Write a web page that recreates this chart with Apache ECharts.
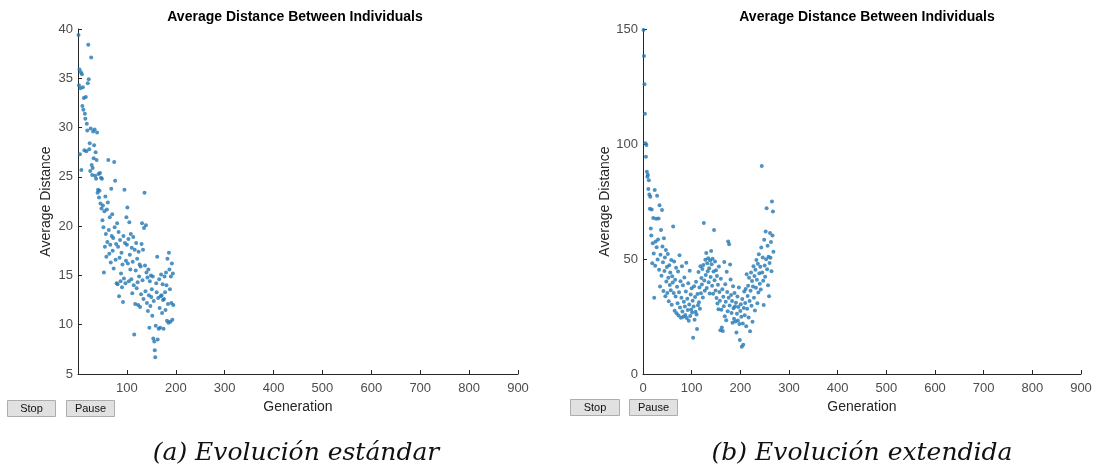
<!DOCTYPE html>
<html>
<head>
<meta charset="utf-8">
<script src="https://cdn.jsdelivr.net/npm/echarts@6/dist/echarts.min.js"></script>
<style>
  html, body { margin: 0; padding: 0; background: #ffffff; }
  #chart { width: 1095px; height: 471px; }
</style>
</head>
<body>
<div id="chart"></div>
<script>
// Average distance between individuals, one value per generation.
// (a) standard evolution run
const distStandard = [
  39.4, 34.3, 35.9, 27.3, 34.0, 35.6, 25.7, 35.4, 32.2, 34.1,
  31.8, 33.0, 27.7, 31.4, 30.9, 33.1, 27.6, 30.4, 29.7, 34.5,
  38.4, 34.9, 27.8, 28.4, 25.6, 29.9, 37.1, 26.2, 25.2, 25.9,
  29.6, 26.9, 28.2, 29.8, 25.1, 27.5, 24.8, 26.7, 29.5, 23.4,
  23.7, 25.3, 22.9, 23.6, 25.4, 22.3, 24.9, 21.8, 24.8, 20.6,
  22.1, 19.9, 15.3, 21.5, 17.9, 23.0, 19.2, 16.9, 21.7, 18.4,
  22.4, 26.7, 19.6, 17.2, 20.9, 18.1, 16.3, 23.8, 19.0, 21.2,
  17.5, 18.8, 15.7, 26.5, 19.9, 24.6, 16.6, 18.2, 14.2, 20.3,
  14.1, 17.9, 19.4, 12.9, 16.8, 18.6, 14.4, 15.2, 17.3, 13.8,
  16.1, 12.3, 19.0, 14.7, 23.7, 18.3, 14.2, 16.5, 20.9, 18.1,
  21.9, 16.2, 18.7, 14.4, 20.4, 17.1, 15.6, 19.2, 14.6, 17.8,
  13.2, 16.4, 18.9, 14.0,  9.0, 17.6, 12.1, 15.5, 18.3, 13.7,
  16.7, 14.3, 12.0, 17.4, 14.9, 16.1, 11.8, 15.9, 13.1, 18.2,
  20.3, 14.5, 17.6, 12.6, 19.8, 23.4, 16.0, 13.4, 20.1, 15.3,
  12.2, 14.8, 11.4, 15.6, 13.0,  9.7, 14.4, 11.9, 15.0, 12.8,
  13.6, 10.9, 14.9,  8.6, 12.4,  8.3,  7.4,  6.7,  9.9, 14.2,
  13.3, 16.9,  8.5, 12.7,  9.6, 14.6, 11.7,  9.7, 12.9, 15.1,
  13.0, 11.2, 14.1, 12.5,  9.6, 12.6, 14.9, 13.3, 11.5, 15.3,
  14.0, 10.4, 16.7, 12.1, 10.2, 17.3, 15.6, 13.6, 10.3, 14.9,
  12.2, 16.2, 10.5, 15.2, 12.0
];

// (b) extended evolution run
const distExtended = [
  149.6, 138.3, 126.0, 113.2, 100.3, 94.5, 99.6, 87.9, 85.8, 86.6,
  80.4, 84.2, 78.0, 71.8, 77.1, 63.3, 60.2, 71.5, 48.2, 56.8,
  67.8, 52.4, 33.2, 80.0, 47.1, 57.6, 67.5, 55.1, 77.5, 49.8,
  58.5, 67.6, 45.3, 73.4, 38.0, 51.9, 62.6, 42.7, 71.3, 55.4,
  48.6, 36.1, 59.0, 44.8, 50.7, 33.8, 53.9, 40.2, 46.5, 35.2,
  52.2, 41.9, 31.6, 47.3, 38.7, 44.1, 36.4, 49.6, 30.1, 42.5,
  39.8, 64.1, 35.2, 48.9, 27.5, 41.0, 33.7, 46.2, 26.4, 37.9,
  30.8, 44.6, 25.4, 35.5, 51.6, 28.9, 40.3, 24.5, 33.1, 46.8,
  27.2, 38.6, 24.9, 31.4, 42.0, 29.3, 25.6, 35.9, 48.4, 24.3,
  32.7, 27.8, 39.5, 23.1, 30.2, 44.9, 25.2, 34.6, 28.0, 37.3,
  26.7, 31.9, 15.8, 29.4, 38.2, 23.6, 33.5, 27.1, 40.1, 25.9,
  19.6, 34.8, 29.9, 44.3, 31.2, 37.6, 28.4, 46.9, 35.1, 41.7,
  38.9, 45.6, 33.3, 47.4, 65.6, 40.6, 36.2, 49.7, 43.0, 52.6,
  37.4, 48.1, 44.7, 50.3, 39.9, 46.0, 35.0, 49.4, 42.2, 53.5,
  47.7, 38.4, 50.1, 34.9, 44.6, 62.6, 40.8, 48.9, 36.3, 45.1,
  33.0, 42.6, 30.7, 38.8, 28.2, 46.7, 35.6, 31.8, 19.0, 41.4,
  27.9, 20.2, 36.9, 18.7, 33.6, 29.5, 48.7, 25.1, 39.0, 31.4,
  23.4, 44.5, 35.7, 27.3, 57.6, 33.2, 56.4, 29.8, 47.6, 41.1,
  34.4, 26.5, 31.7, 22.3, 38.1, 28.6, 24.0, 35.2, 29.4, 22.8,
  31.0, 18.0, 26.2, 33.7, 23.3, 29.1, 37.6, 21.7, 14.8, 27.4,
  30.3, 24.9, 11.9, 32.6, 22.0, 12.7, 28.7, 35.9, 25.5, 30.9,
  37.0, 20.8, 43.4, 28.4, 33.9, 38.4, 24.6, 41.9, 31.7, 18.6,
  36.2, 44.1, 29.7, 40.4, 22.7, 38.0, 46.8, 33.1, 42.6, 27.6,
  45.3, 37.5, 49.6, 41.0, 30.8, 47.9, 35.4, 52.1, 43.8, 39.2,
  46.6, 36.7, 55.0, 90.4, 44.1, 50.7, 40.5, 30.0, 58.4, 47.2,
  42.3, 62.0, 49.9, 72.1, 45.5, 55.8, 38.6, 51.0, 33.8, 48.3,
  61.3, 50.5, 57.4, 44.7, 75.0, 60.2, 70.6, 53.1
];

const xTicksStandard = [0, 900, 100];   // min, max, step
const xTicksExtended = [0, 900, 100];
const yTicksStandard = [5, 40, 5];
const yTicksExtended = [0, 150, 50];

const titleText = 'Average Distance Between Individuals';
const xName = 'Generation';
const yName = 'Average Distance';
const captions = ['(a) Evolución estándar', '(b) Evolución extendida'];

// pair each value with its generation number (1-based)
const withGen = arr => arr.map((v, i) => [i + 1, v]);

const axisColor = '#262626';
const labelColor = '#4d4d4d';
const dotColor = '#2277b3';
const sans = 'Liberation Sans, Arial, sans-serif';

function xAxis(gridIndex, t, showMin) {
  return {
    type: 'value', gridIndex, min: t[0], max: t[1], interval: t[2],
    name: xName, nameLocation: 'middle', nameGap: 26,
    nameTextStyle: { color: axisColor, fontSize: 14, fontFamily: sans },
    axisLine: { show: true, lineStyle: { color: axisColor, width: 1 } },
    axisTick: { show: true, inside: true, length: 4, lineStyle: { color: axisColor } },
    axisLabel: { color: labelColor, fontSize: 13, fontFamily: sans, margin: 8, showMinLabel: showMin, showMaxLabel: true },
    splitLine: { show: false }
  };
}
function yAxis(gridIndex, t) {
  return {
    type: 'value', gridIndex, min: t[0], max: t[1], interval: t[2],
    name: yName, nameLocation: 'middle', nameGap: 25,
    nameTextStyle: { color: axisColor, fontSize: 14, fontFamily: sans },
    axisLine: { show: true, lineStyle: { color: axisColor, width: 1 } },
    axisTick: { show: true, inside: true, length: 4, lineStyle: { color: axisColor } },
    axisLabel: { color: labelColor, fontSize: 13, fontFamily: sans, margin: 5 },
    splitLine: { show: false }
  };
}

function button(x, y, w, label) {
  return {
    type: 'group', left: x, top: y,
    children: [
      { type: 'rect', shape: { x: 0, y: 0, width: w, height: 16 },
        style: { fill: '#e1e1e1', stroke: '#adadad', lineWidth: 1 } },
      { type: 'text', style: { x: w / 2, y: 8, text: label, fill: '#111',
        font: '11px ' + sans, textAlign: 'center', textVerticalAlign: 'middle' } }
    ]
  };
}
function caption(cx, text) {
  return {
    type: 'text', x: cx, y: 453,
    style: { text, fill: '#111', fontStyle: 'italic', fontSize: 25,
      fontFamily: 'DejaVu Serif, serif', textAlign: 'center', textVerticalAlign: 'middle' }
  };
}

const chart = echarts.init(document.getElementById('chart'), null, { renderer: 'canvas' });
chart.setOption({
  backgroundColor: '#ffffff',
  animation: false,
  title: [
    { text: titleText, left: 290, top: 5, textAlign: 'center',
      textStyle: { fontSize: 14, fontWeight: 'bold', color: '#000', fontFamily: sans } },
    { text: titleText, left: 862, top: 5, textAlign: 'center',
      textStyle: { fontSize: 14, fontWeight: 'bold', color: '#000', fontFamily: sans } }
  ],
  grid: [
    { left: 78, top: 29, width: 440, height: 345 },
    { left: 643, top: 29, width: 438, height: 345 }
  ],
  xAxis: [xAxis(0, xTicksStandard, false), xAxis(1, xTicksExtended, true)],
  yAxis: [yAxis(0, yTicksStandard), yAxis(1, yTicksExtended)],
  series: [
    { type: 'scatter', xAxisIndex: 0, yAxisIndex: 0, data: withGen(distStandard),
      symbolSize: 4, itemStyle: { color: dotColor }, clip: false },
    { type: 'scatter', xAxisIndex: 1, yAxisIndex: 1, data: withGen(distExtended),
      symbolSize: 4, itemStyle: { color: dotColor }, clip: false }
  ],
  graphic: [
    button(7, 400, 48, 'Stop'),
    button(66, 400, 48, 'Pause'),
    button(570, 399, 49, 'Stop'),
    button(629, 399, 48, 'Pause'),
    caption(296, captions[0]),
    caption(862, captions[1])
  ]
});
</script>
</body>
</html>
